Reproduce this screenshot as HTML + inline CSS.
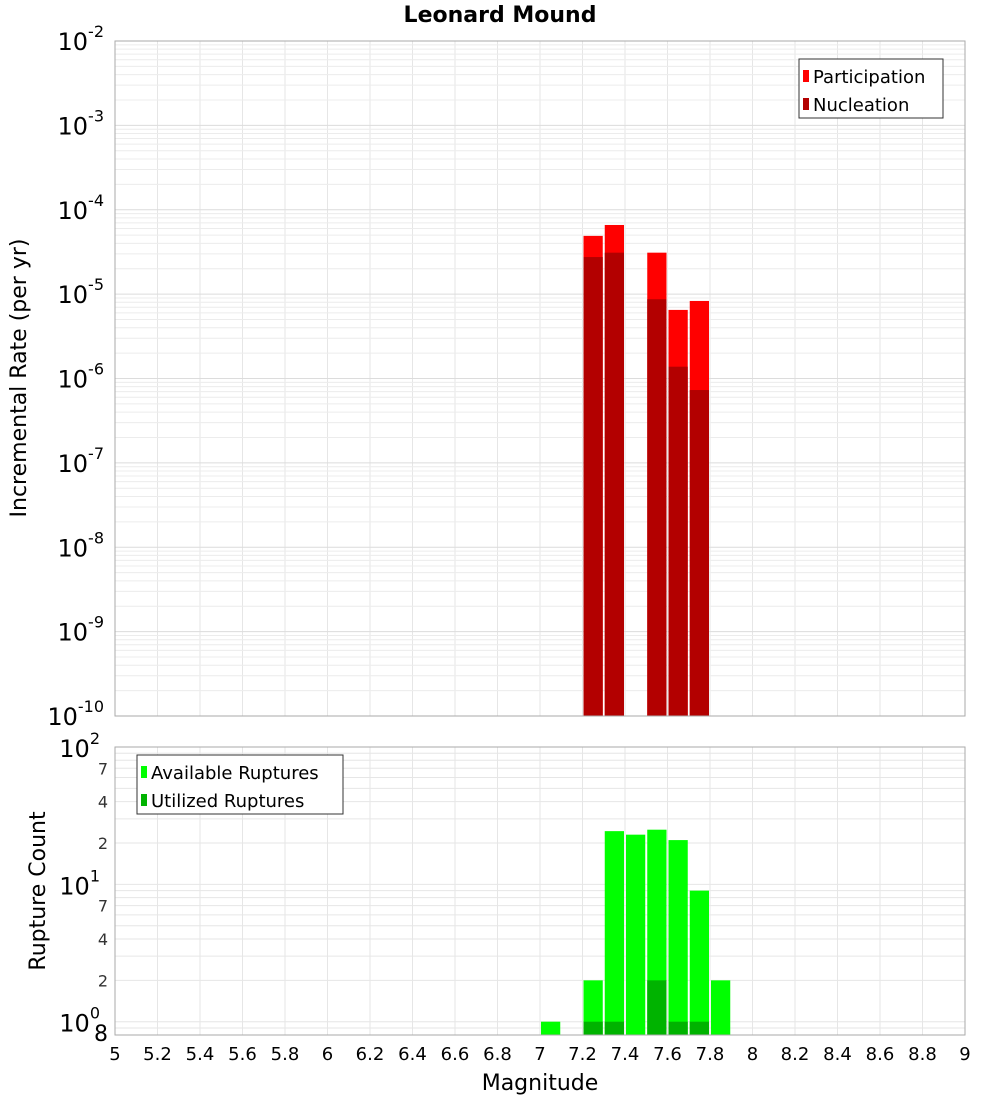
<!DOCTYPE html>
<html><head><meta charset="utf-8"><style>
html,body{margin:0;padding:0;background:#fff;}
svg{display:block;font-family:"DejaVu Sans","Liberation Sans",sans-serif;}
</style></head><body>
<svg id="chart" width="1000" height="1100" viewBox="0 0 1000 1100"></svg>
<script>
const mags = [7.05, 7.25, 7.35, 7.45, 7.55, 7.65, 7.75, 7.85];
const participation = [null, 4.9e-5, 6.6e-5, null, 3.1e-5, 6.5e-6, 8.3e-6, null];
const nucleation = [null, 2.75e-5, 3.1e-5, null, 8.7e-6, 1.38e-6, 7.3e-7, null];
const available = [1, 2, 24.4, 23, 25, 21, 9, 2];
const utilized = [null, 1, 1, null, 2, 1, 1, null];
const xTicks = ["5","5.2","5.4","5.6","5.8","6","6.2","6.4","6.6","6.8","7","7.2","7.4","7.6","7.8","8","8.2","8.4","8.6","8.8","9"];
const topExps = [-2,-3,-4,-5,-6,-7,-8,-9,-10];

const NS="http://www.w3.org/2000/svg";
const svg=document.getElementById('chart');
function el(tag,attrs,parent){const e=document.createElementNS(NS,tag);for(const k in attrs)e.setAttribute(k,attrs[k]);(parent||svg).appendChild(e);return e;}
const X0=115,X1=965;
const x=m=>X0+(m-5)/(9-5)*(X1-X0);
const T0=41,T1=716;
const yTop=v=>T0+(-2-Math.log10(v))/8*(T1-T0);
const B0=747,B1=1035;
const bLo=Math.log10(0.8),bHi=2;
const yBot=v=>B0+(bHi-Math.log10(v))/(bHi-bLo)*(B1-B0);

// grids
const gTop=el('g',{});

const gBot=el('g',{});

xTicks.forEach(t=>{const px=x(parseFloat(t));
 el('line',{x1:px,x2:px,y1:T0,y2:T1,stroke:'#e6e6e6','stroke-width':1},gTop);
 el('line',{x1:px,x2:px,y1:B0,y2:B1,stroke:'#e6e6e6','stroke-width':1},gBot);});
for(let e=-10;e<-2;e++){for(let k=1;k<10;k++){const py=yTop(k*Math.pow(10,e));
 el('line',{x1:X0,x2:X1,y1:py,y2:py,stroke:k==1?'#dcdcdc':'#ececec','stroke-width':1},gTop);}}
for(let e=-1;e<2;e++){for(let k=1;k<10;k++){const v=k*Math.pow(10,e);if(v<0.8)continue;const py=yBot(v);
 el('line',{x1:X0,x2:X1,y1:py,y2:py,stroke:'#e6e6e6','stroke-width':1},gBot);}}

// top bars
const bw=x(5.1)-x(5);
mags.forEach((m,i)=>{
 if(participation[i]!=null){const r=el('rect',{x:x(m)-bw/2+1,y:yTop(participation[i]),width:bw-2,height:T1-yTop(participation[i]),fill:'#ff0000'});
  }
 if(nucleation[i]!=null){const r=el('rect',{x:x(m)-bw/2+1,y:yTop(nucleation[i]),width:bw-2,height:T1-yTop(nucleation[i]),fill:'#b30000'});
  }
 if(available[i]!=null){const r=el('rect',{x:x(m)-bw/2+1,y:yBot(available[i]),width:bw-2,height:B1-yBot(available[i]),fill:'#00ff00'});
  }
 if(utilized[i]!=null){const r=el('rect',{x:x(m)-bw/2+1,y:yBot(utilized[i]),width:bw-2,height:B1-yBot(utilized[i]),fill:'#00b300'});
  }
});

// frames
el('rect',{x:X0,y:T0,width:X1-X0,height:T1-T0,fill:'none',stroke:'#aaa'});
el('rect',{x:X0,y:B0,width:X1-X0,height:B1-B0,fill:'none',stroke:'#aaa'});

// top y labels
topExps.forEach(e=>{const py=yTop(Math.pow(10,e));
 const t=el('text',{x:104,y:py+9,'text-anchor':'end','font-size':24,fill:'#000'});
 
 t.textContent='10';
 const s=el('tspan',{dy:-13,'font-size':16},t);s.textContent=String(e);});
// bottom y labels
[[100,'10','2'],[10,'10','1'],[1,'10','0']].forEach(a=>{const py=yBot(a[0]);
 const t=el('text',{x:100,y:py+10,'text-anchor':'end','font-size':24,fill:'#000'});
 
 t.textContent=a[1];const s=el('tspan',{dy:-13,'font-size':16},t);s.textContent=a[2];});
[[70,'7'],[40,'4'],[20,'2'],[7,'7'],[4,'4'],[2,'2']].forEach(a=>{
 const t=el('text',{x:108,y:yBot(a[0])+6,'text-anchor':'end','font-size':16,fill:'#333'});
 t.textContent=a[1];});
{const t=el('text',{x:108,y:1041,'text-anchor':'end','font-size':22,fill:'#000'});
 t.textContent='8';}

// x labels
xTicks.forEach(tk=>{const t=el('text',{x:x(parseFloat(tk)),y:1060,'text-anchor':'middle','font-size':18,fill:'#000'});
 t.textContent=tk;});

function txt(s,attrs,name){const t=el('text',attrs);t.textContent=s;return t;}
txt('Leonard Mound',{x:500,y:22,'text-anchor':'middle','font-size':22,'font-weight':'bold'},'chart-title');
txt('Magnitude',{x:540,y:1090,'text-anchor':'middle','font-size':22},'x-axis-title');
txt('Incremental Rate (per yr)',{x:0,y:0,'text-anchor':'middle','font-size':22,transform:'translate(26,378) rotate(-90)'},'top-y-axis-title');
txt('Rupture Count',{x:0,y:0,'text-anchor':'middle','font-size':22,transform:'translate(45,891) rotate(-90)'},'bottom-y-axis-title');

// legends
function legend(lx,ly,w,h,items,name){const g=el('g',{});
 el('rect',{x:lx,y:ly,width:w,height:h,fill:'#fff',stroke:'#333','stroke-width':1},g);
 items.forEach((it,i)=>{const cy=ly+17+i*28;
  el('rect',{x:lx+4,y:cy-6,width:6,height:12,fill:it[1]},g);
  const t=el('text',{x:lx+14,y:cy+7,'font-size':18},g);t.textContent=it[0];
  });}
legend(799,59,144,59,[['Participation','#ff0000'],['Nucleation','#b30000']],'top-legend');
legend(137,755,206,59,[['Available Ruptures','#00ff00'],['Utilized Ruptures','#00b300']],'bottom-legend');
</script>
</body></html>
